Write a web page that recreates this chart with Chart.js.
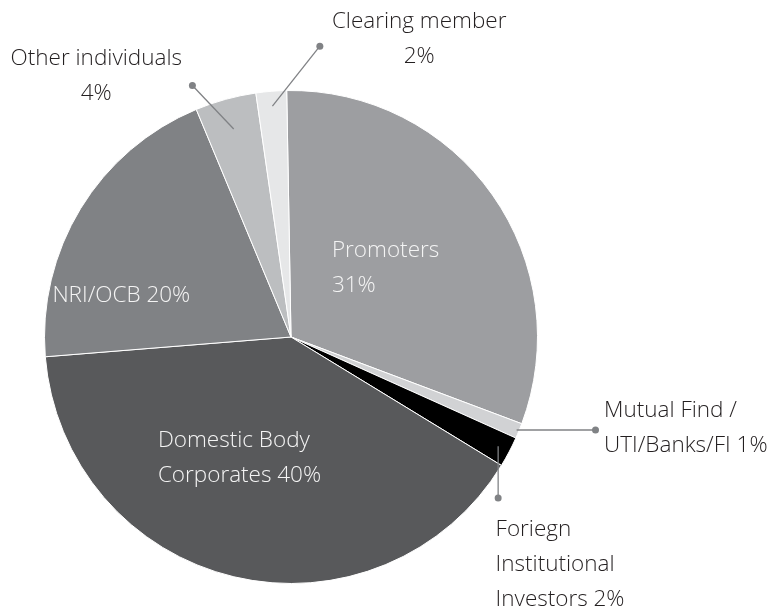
<!DOCTYPE html>
<html>
<head>
<meta charset="utf-8">
<script src="https://cdn.jsdelivr.net/npm/chart.js@4.4.0/dist/chart.umd.min.js"></script>
<style>
  html, body { margin: 0; padding: 0; background: #fff; }
  #wrap { width: 769px; height: 608px; }
</style>
</head>
<body>
<div id="wrap"><canvas id="pie"></canvas></div>
<script>
const categories = ['Promoters', 'Mutual Find / UTI/Banks/FI', 'Foriegn Institutional Investors',
  'Domestic Body Corporates', 'NRI/OCB', 'Other individuals', 'Clearing member'];
const shares = [31, 1, 2, 40, 20, 4, 2];
const sliceColors = ['#9d9ea1', '#d1d2d4', '#000000', '#58595b', '#808285', '#bcbec0', '#e6e7e8'];
const labelLines = [
  ['Promoters', '31%'],
  ['Mutual Find /', 'UTI/Banks/FI 1%'],
  ['Foriegn', 'Institutional', 'Investors 2%'],
  ['Domestic Body', 'Corporates 40%'],
  ['NRI/OCB 20%'],
  ['Other individuals', '4%'],
  ['Clearing member', '2%']
];

// where each label goes, relative to pie centre in radius units
const labelPlace = [
  { inside: true, dx: 0.166, dy: -0.35, align: 'left' },
  { lead: 'h', r: 0.99, len: 0.32, dx: 1.27, dy: 0.3, align: 'left' },
  { lead: 'v', r: 0.95, len: 0.21, dx: 0.83, dy: 0.78, align: 'left' },
  { inside: true, dx: -0.54, dy: 0.42, align: 'left' },
  { inside: true, dx: -0.968, dy: -0.17, align: 'left' },
  { lead: 'p', r: 0.875, ex: -0.40, ey: -1.02, dx: -0.79, dy: -1.13, align: 'center' },
  { lead: 'p', r: 0.94, ex: 0.117, ey: -1.18, dx: 0.52, dy: -1.28, align: 'center' }
];

const labelPlugin = {
  id: 'pieLabels',
  afterDatasetsDraw(chart) {
    const ctx = chart.ctx;
    const meta = chart.getDatasetMeta(0);
    const lh = 35;
    ctx.save();
    ctx.font = '300 22.5px "Open Sans", sans-serif';
    ctx.textBaseline = 'middle';
    meta.data.forEach((arc, i) => {
      const { x, y, outerRadius: R, startAngle, endAngle } = arc.getProps(['x', 'y', 'outerRadius', 'startAngle', 'endAngle'], true);
      const p = labelPlace[i];
      const mid = (startAngle + endAngle) / 2;
      if (!p.inside) {
        const sx = x + Math.cos(mid) * R * p.r;
        const sy = y + Math.sin(mid) * R * p.r;
        let ex, ey;
        if (p.lead === 'h') { ex = sx + R * p.len; ey = sy; }
        else if (p.lead === 'v') { ex = sx; ey = sy + R * p.len; }
        else { ex = x + R * p.ex; ey = y + R * p.ey; }
        ctx.strokeStyle = '#808285';
        ctx.lineWidth = 1.3;
        ctx.beginPath();
        ctx.moveTo(sx, sy);
        ctx.lineTo(ex, ey);
        ctx.stroke();
        ctx.fillStyle = '#808285';
        ctx.beginPath();
        ctx.arc(ex, ey, 3.5, 0, Math.PI * 2);
        ctx.fill();
      }
      ctx.fillStyle = p.inside ? '#f4f4f4' : '#231f20';
      ctx.textAlign = p.align;
      const tx = x + R * p.dx;
      const ty = y + R * p.dy;
      labelLines[i].forEach((line, k) => ctx.fillText(line, tx, ty + k * lh));
    });
    ctx.restore();
  }
};

new Chart(document.getElementById('pie'), {
  type: 'pie',
  data: {
    labels: categories,
    datasets: [{
      data: shares,
      backgroundColor: sliceColors,
      borderColor: '#ffffff',
      borderWidth: 1
    }]
  },
  options: {
    responsive: true,
    maintainAspectRatio: false,
    animation: false,
    rotation: -1,
    layout: { padding: { top: 90, bottom: 24, left: 44, right: 231 } },
    plugins: {
      legend: { display: false },
      tooltip: { enabled: false }
    }
  },
  plugins: [labelPlugin]
});
</script>
</body>
</html>
